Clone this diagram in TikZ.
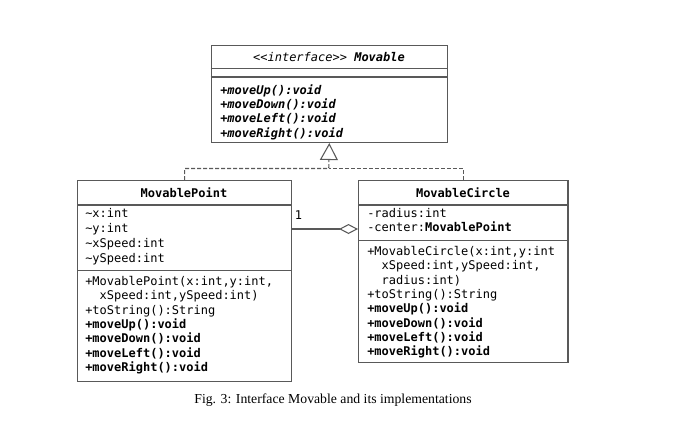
\documentclass[tikz,border=0pt]{standalone}
\usepackage{fontspec}
\setmainfont{Liberation Serif}
\setmonofont{DejaVu Sans Mono}
\usetikzlibrary{arrows.meta, positioning}

\tikzset{
  umlbox/.style={draw=black!65, line width=0.8pt, rectangle, anchor=north west, inner sep=0pt},
  umltext/.style={anchor=north west, inner sep=0pt, align=left, font=\ttfamily\fontsize{9}{10.75}\selectfont},
  umltitle/.style={inner sep=0pt, font=\ttfamily\bfseries\fontsize{9}{10.75}\selectfont},
  sepline/.style={draw=black!65, line width=0.8pt},
  realize/.style={draw=black!65, line width=0.8pt, dash pattern=on 3pt off 1.5pt},
  aggr/.style={draw=black!65, line width=0.8pt, -{Diamond[open, length=14.25pt, width=7.5pt]}},
}

\begin{document}
\begin{tikzpicture}[x=0.75pt,y=0.75pt,yscale=-1,xscale=1]
\useasboundingbox (0,0) rectangle (675,432);

%Interface box
\node (movable) [umlbox, minimum width=177.4pt, minimum height=73.1pt] at (210.5,44.5) {};
\draw [sepline] (210.5,68.5) -- (447,68.5) ;
\draw [sepline] (210.5,77) -- (447,77) ;
\node (movabletitle) [inner sep=0pt, font=\ttfamily\itshape\fontsize{9}{10.75}\selectfont] at (329,57) {<<interface>> \textbf{Movable}};
\node (movableops) [umltext, font=\ttfamily\bfseries\itshape\fontsize{9}{10.75}\selectfont] at (220,84) {+moveUp():void\\+moveDown():void\\+moveLeft():void\\+moveRight():void};

%Class MovablePoint
\node (point) [umlbox, minimum width=160.5pt, minimum height=150.75pt] at (77,180) {};
\draw [sepline] (77,205) -- (291,205) ;
\draw [sepline] (77,270.5) -- (291,270.5) ;
\node (pointtitle) [umltitle] at (184,193) {MovablePoint};
\node (pointattr) [umltext, font=\ttfamily\fontsize{9}{11.25}\selectfont] at (85,208) {\textasciitilde x:int\\\textasciitilde y:int\\\textasciitilde xSpeed:int\\\textasciitilde ySpeed:int};
\node (pointops) [umltext] at (85,276) {+MovablePoint(x:int,y:int,\\\phantom{++}xSpeed:int,ySpeed:int)\\+toString():String\\\textbf{+moveUp():void}\\\textbf{+moveDown():void}\\\textbf{+moveLeft():void}\\\textbf{+moveRight():void}};

%Class MovableCircle
\node (circle) [umlbox, minimum width=157.1pt, minimum height=136.5pt] at (358,180) {};
\draw [sepline] (358,205) -- (567.5,205) ;
\draw [sepline] (358,240.5) -- (567.5,240.5) ;
\node (circletitle) [umltitle] at (463,193) {MovableCircle};
\node (circleattr) [umltext] at (367,208) {-radius:int\\-center:\textbf{MovablePoint}};
\node (circleops) [umltext] at (367,246) {+MovableCircle(x:int,y:int\\\phantom{++}xSpeed:int,ySpeed:int,\\\phantom{++}radius:int)\\+toString():String\\\textbf{+moveUp():void}\\\textbf{+moveDown():void}\\\textbf{+moveLeft():void}\\\textbf{+moveRight():void}};

%Realization
\coordinate (join) at (328.75,168.5);
\draw [realize, -{Triangle[open, length=12.75pt, width=13.5pt, line width=0.8pt]}] (point.north) |- (join) -- (movable.south) ;
\draw [realize] (circle.north) |- (join) ;

%Aggregation
\draw [aggr] ([yshift=36.75pt]point.north east) -- ([yshift=36.75pt]circle.north west) ;
\node (mult) [umltext, anchor=center] at (298.5,215) {1};

% Text Node
\node (caption) [inner sep=0pt, font=\fontsize{10.3}{12}\selectfont] at (333,400) {Fig. 3: Interface Movable and its implementations};

\end{tikzpicture}
\end{document}
